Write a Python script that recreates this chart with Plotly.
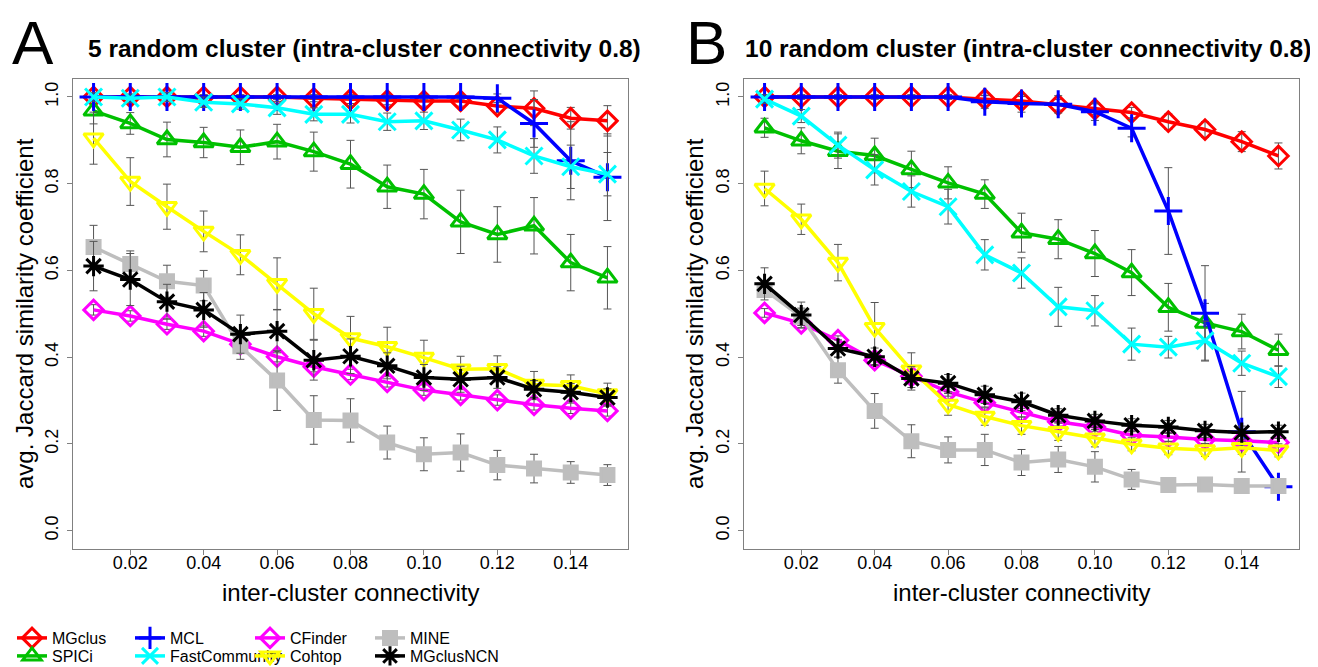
import plotly.graph_objects as go

x_vals = [0.01, 0.02, 0.03, 0.04, 0.05, 0.06, 0.07, 0.08, 0.09, 0.10, 0.11, 0.12, 0.13, 0.14, 0.15]
x_ticks = [0.02, 0.04, 0.06, 0.08, 0.10, 0.12, 0.14]
x_tick_labels = ["0.02", "0.04", "0.06", "0.08", "0.10", "0.12", "0.14"]
y_ticks = [0.0, 0.2, 0.4, 0.6, 0.8, 1.0]
y_tick_labels = ["0.0", "0.2", "0.4", "0.6", "0.8", "1.0"]

methods = ["MGclus", "SPICi", "MCL", "FastCommunity", "CFinder", "Cohtop", "MINE", "MGclusNCN"]

# Panel A: 5 random clusters
mgclus_a = [1.0, 1.0, 1.0, 1.0, 1.0, 1.0, 0.997, 0.995, 0.992, 0.991, 0.991, 0.979, 0.974, 0.951, 0.945]
mgclus_a_err = [0.005, 0.005, 0.005, 0.005, 0.005, 0.005, 0.008, 0.01, 0.01, 0.012, 0.012, 0.015, 0.04, 0.025, 0.035]
spici_a = [0.968, 0.939, 0.902, 0.895, 0.884, 0.897, 0.874, 0.845, 0.793, 0.776, 0.712, 0.683, 0.703, 0.618, 0.583]
spici_a_err = [0.03, 0.025, 0.04, 0.035, 0.04, 0.04, 0.045, 0.055, 0.05, 0.057, 0.073, 0.064, 0.065, 0.065, 0.072]
mcl_a = [1.0, 1.0, 1.0, 1.0, 1.0, 1.0, 1.0, 1.0, 1.0, 1.0, 1.0, 0.997, 0.939, 0.853, 0.815]
mcl_a_err = [0.005, 0.005, 0.005, 0.005, 0.005, 0.005, 0.005, 0.005, 0.005, 0.005, 0.005, 0.01, 0.055, 0.09, 0.1]
fc_a = [1.0, 0.997, 1.0, 0.988, 0.984, 0.975, 0.96, 0.96, 0.943, 0.945, 0.924, 0.901, 0.864, 0.839, 0.822]
fc_a_err = [0.01, 0.01, 0.01, 0.012, 0.012, 0.015, 0.015, 0.02, 0.02, 0.02, 0.025, 0.03, 0.04, 0.05, 0.05]
cf_a = [0.509, 0.495, 0.476, 0.460, 0.430, 0.401, 0.378, 0.360, 0.343, 0.324, 0.313, 0.301, 0.290, 0.282, 0.276]
cf_a_err = [0.012, 0.012, 0.012, 0.012, 0.012, 0.012, 0.012, 0.012, 0.012, 0.012, 0.012, 0.012, 0.012, 0.012, 0.012]
cohtop_a = [0.905, 0.805, 0.747, 0.690, 0.636, 0.569, 0.500, 0.444, 0.424, 0.399, 0.372, 0.373, 0.337, 0.334, 0.315]
cohtop_a_err = [0.06, 0.055, 0.052, 0.047, 0.046, 0.06, 0.059, 0.05, 0.045, 0.04, 0.03, 0.03, 0.03, 0.025, 0.025]
mine_a = [0.654, 0.615, 0.575, 0.565, 0.425, 0.346, 0.255, 0.254, 0.203, 0.176, 0.180, 0.151, 0.143, 0.134, 0.128]
mine_a_err = [0.05, 0.03, 0.037, 0.035, 0.03, 0.069, 0.056, 0.05, 0.038, 0.038, 0.043, 0.034, 0.033, 0.025, 0.024]
ncn_a = [0.610, 0.579, 0.528, 0.509, 0.453, 0.460, 0.393, 0.402, 0.380, 0.353, 0.349, 0.353, 0.326, 0.319, 0.307]
ncn_a_err = [0.057, 0.06, 0.04, 0.04, 0.044, 0.05, 0.046, 0.04, 0.03, 0.03, 0.03, 0.025, 0.02, 0.02, 0.02]

# Panel B: 10 random clusters
mgclus_b = [1.0, 1.0, 1.0, 1.0, 1.0, 1.0, 0.995, 0.991, 0.982, 0.972, 0.964, 0.943, 0.925, 0.897, 0.864]
mgclus_b_err = [0.005, 0.005, 0.005, 0.005, 0.005, 0.005, 0.008, 0.01, 0.012, 0.012, 0.012, 0.018, 0.018, 0.023, 0.03]
spici_b = [0.929, 0.899, 0.875, 0.865, 0.833, 0.802, 0.776, 0.687, 0.672, 0.639, 0.595, 0.515, 0.479, 0.459, 0.416]
spici_b_err = [0.022, 0.03, 0.04, 0.04, 0.042, 0.037, 0.033, 0.045, 0.045, 0.053, 0.053, 0.055, 0.045, 0.04, 0.037]
mcl_b = [1.0, 1.0, 1.0, 1.0, 1.0, 1.0, 0.989, 0.985, 0.983, 0.966, 0.928, 0.737, 0.501, 0.228, 0.101]
mcl_b_err = [0.005, 0.005, 0.005, 0.005, 0.005, 0.005, 0.015, 0.02, 0.02, 0.02, 0.02, 0.1, 0.11, 0.093, 0.012]
fc_b = [0.995, 0.956, 0.889, 0.832, 0.782, 0.747, 0.636, 0.594, 0.516, 0.507, 0.430, 0.423, 0.438, 0.386, 0.355]
fc_b_err = [0.01, 0.015, 0.03, 0.035, 0.036, 0.04, 0.035, 0.035, 0.045, 0.035, 0.037, 0.025, 0.045, 0.028, 0.025]
cf_b = [0.502, 0.478, 0.439, 0.393, 0.356, 0.320, 0.295, 0.272, 0.251, 0.239, 0.220, 0.216, 0.210, 0.207, 0.203]
cf_b_err = [0.01, 0.01, 0.01, 0.01, 0.01, 0.01, 0.01, 0.01, 0.01, 0.01, 0.01, 0.01, 0.01, 0.01, 0.01]
cohtop_b = [0.789, 0.718, 0.618, 0.468, 0.370, 0.291, 0.263, 0.242, 0.228, 0.213, 0.199, 0.190, 0.186, 0.191, 0.185]
cohtop_b_err = [0.04, 0.035, 0.042, 0.058, 0.04, 0.025, 0.02, 0.02, 0.02, 0.02, 0.015, 0.015, 0.015, 0.015, 0.015]
mine_b = [0.555, 0.493, 0.370, 0.276, 0.206, 0.186, 0.186, 0.157, 0.164, 0.147, 0.118, 0.105, 0.106, 0.103, 0.103]
mine_b_err = [0.012, 0.02, 0.03, 0.04, 0.038, 0.03, 0.036, 0.03, 0.03, 0.035, 0.023, 0.01, 0.015, 0.008, 0.01]
ncn_b = [0.569, 0.497, 0.420, 0.401, 0.351, 0.340, 0.313, 0.297, 0.266, 0.253, 0.243, 0.239, 0.230, 0.226, 0.228]
ncn_b_err = [0.037, 0.03, 0.02, 0.02, 0.027, 0.02, 0.02, 0.02, 0.015, 0.015, 0.015, 0.015, 0.015, 0.015, 0.015]

panel_a = {"MGclus": (mgclus_a, mgclus_a_err), "SPICi": (spici_a, spici_a_err), "MCL": (mcl_a, mcl_a_err),
           "FastCommunity": (fc_a, fc_a_err), "CFinder": (cf_a, cf_a_err), "Cohtop": (cohtop_a, cohtop_a_err),
           "MINE": (mine_a, mine_a_err), "MGclusNCN": (ncn_a, ncn_a_err)}
panel_b = {"MGclus": (mgclus_b, mgclus_b_err), "SPICi": (spici_b, spici_b_err), "MCL": (mcl_b, mcl_b_err),
           "FastCommunity": (fc_b, fc_b_err), "CFinder": (cf_b, cf_b_err), "Cohtop": (cohtop_b, cohtop_b_err),
           "MINE": (mine_b, mine_b_err), "MGclusNCN": (ncn_b, ncn_b_err)}

styles = {
    "MGclus": dict(color="#FF0000", symbol="diamond-open", size=15),
    "SPICi": dict(color="#00C000", symbol="triangle-up-open", size=17),
    "MCL": dict(color="#0000FF", symbol="cross-thin-open", size=20),
    "FastCommunity": dict(color="#00FFFF", symbol="x-thin-open", size=17),
    "CFinder": dict(color="#FF00FF", symbol="diamond-open", size=15),
    "Cohtop": dict(color="#FFFF00", symbol="triangle-down-open", size=17),
    "MINE": dict(color="#BEBEBE", symbol="square", size=13),
    "MGclusNCN": dict(color="#000000", symbol="asterisk-open", size=17),
}
# one single-entry legend per method, laid out as a 4-column x 2-row grid
legend_id = {"MGclus": "legend", "SPICi": "legend2", "MCL": "legend3", "FastCommunity": "legend4",
             "CFinder": "legend5", "Cohtop": "legend6", "MINE": "legend7", "MGclusNCN": "legend8"}
legend_cell = {"MGclus": (0, 0), "SPICi": (0, 1), "MCL": (1, 0), "FastCommunity": (1, 1),
               "CFinder": (2, 0), "Cohtop": (2, 1), "MINE": (3, 0), "MGclusNCN": (3, 1)}

FONT = "Liberation Sans, Arial, Helvetica, sans-serif"
fig = go.Figure()

for panel, data, xa, ya in [("A", panel_a, "x", "y"), ("B", panel_b, "x2", "y2")]:
    for m in methods:
        vals, err = data[m]
        st = styles[m]
        fig.add_trace(go.Scatter(
            x=x_vals, y=vals, mode="lines+markers", name=m,
            xaxis=xa, yaxis=ya,
            line=dict(color=st["color"], width=3.5),
            marker=dict(symbol=st["symbol"], size=st["size"], color=st["color"],
                        line=dict(color=st["color"], width=3)),
            error_y=dict(type="data", array=err, visible=True, color="#555555",
                         thickness=1, width=4),
            showlegend=(panel == "A"), legend=legend_id[m],
        ))

# The page body has an 8px margin, so the figure is drawn 8px right/down of the window origin.
OFF = 8
W, H = 1318 - OFF, 667 - OFF
def px_x(p):
    return (p - OFF) / W
def px_y(p):
    return 1 - (p - OFF) / H

xr = [0.0044, 0.1556]
yr = [-0.0425, 1.0415]
axis_common = dict(showline=True, mirror=True, linecolor="#808080", linewidth=1,
                   ticks="outside", ticklen=5, tickcolor="#808080", showgrid=False, zeroline=False,
                   tickfont=dict(family=FONT, size=18, color="#000"))

legend_layouts = {}
col_x = [12, 130, 250, 370]
row_y = [638, 656]
for m in methods:
    c, r = legend_cell[m]
    legend_layouts[legend_id[m]] = dict(
        orientation="v", x=px_x(col_x[c]), y=px_y(row_y[r]), xanchor="left", yanchor="middle",
        font=dict(family=FONT, size=16), bgcolor="rgba(0,0,0,0)", itemwidth=30,
        borderwidth=0)

fig.update_layout(
    width=W, height=H, margin=dict(l=0, r=0, t=0, b=0, autoexpand=False),
    paper_bgcolor="white", plot_bgcolor="white",
    font=dict(family=FONT, color="#000"),
    xaxis=dict(domain=[px_x(73), px_x(628)], range=xr, tickvals=x_ticks, ticktext=x_tick_labels,
               ticklabelstandoff=-8, anchor="y", **axis_common),
    yaxis=dict(domain=[px_y(549), px_y(79)], range=yr, tickvals=y_ticks, ticktext=y_tick_labels, tickangle=-90,
               ticklabelstandoff=2, anchor="x", **axis_common),
    xaxis2=dict(domain=[px_x(744), px_x(1299)], range=xr, tickvals=x_ticks, ticktext=x_tick_labels,
                ticklabelstandoff=-8, anchor="y2", **axis_common),
    yaxis2=dict(domain=[px_y(549), px_y(79)], range=yr, tickvals=y_ticks, ticktext=y_tick_labels, tickangle=-90,
                ticklabelstandoff=2, anchor="x2", **axis_common),
    **legend_layouts,
)

annotations = [
    dict(text="A", x=px_x(33), y=px_y(43), xanchor="center", yanchor="middle", font=dict(size=62)),
    dict(text="B", x=px_x(706), y=px_y(43), xanchor="center", yanchor="middle", font=dict(size=62)),
    dict(text="<b>5 random cluster (intra-cluster connectivity 0.8)</b>", x=px_x(364), y=px_y(48),
         xanchor="center", yanchor="middle", font=dict(size=24.5)),
    dict(text="<b>10 random cluster (intra-cluster connectivity 0.8)</b>", x=px_x(1028), y=px_y(48),
         xanchor="center", yanchor="middle", font=dict(size=24.5)),
    dict(text="inter-cluster connectivity", x=px_x(350), y=px_y(592), xanchor="center", yanchor="middle", font=dict(size=24)),
    dict(text="inter-cluster connectivity", x=px_x(1021), y=px_y(592), xanchor="center", yanchor="middle", font=dict(size=24)),
    dict(text="avg. Jaccard similarity coefficient", x=px_x(25), y=px_y(314), xanchor="center", yanchor="middle",
         textangle=-90, font=dict(size=24)),
    dict(text="avg. Jaccard similarity coefficient", x=px_x(695), y=px_y(314), xanchor="center", yanchor="middle",
         textangle=-90, font=dict(size=24)),
]
for a in annotations:
    a.update(xref="paper", yref="paper", showarrow=False)
    a["font"] = dict(family=FONT, color="#000", **a["font"])
fig.update_layout(annotations=annotations)

fig.write_html("out.html")
